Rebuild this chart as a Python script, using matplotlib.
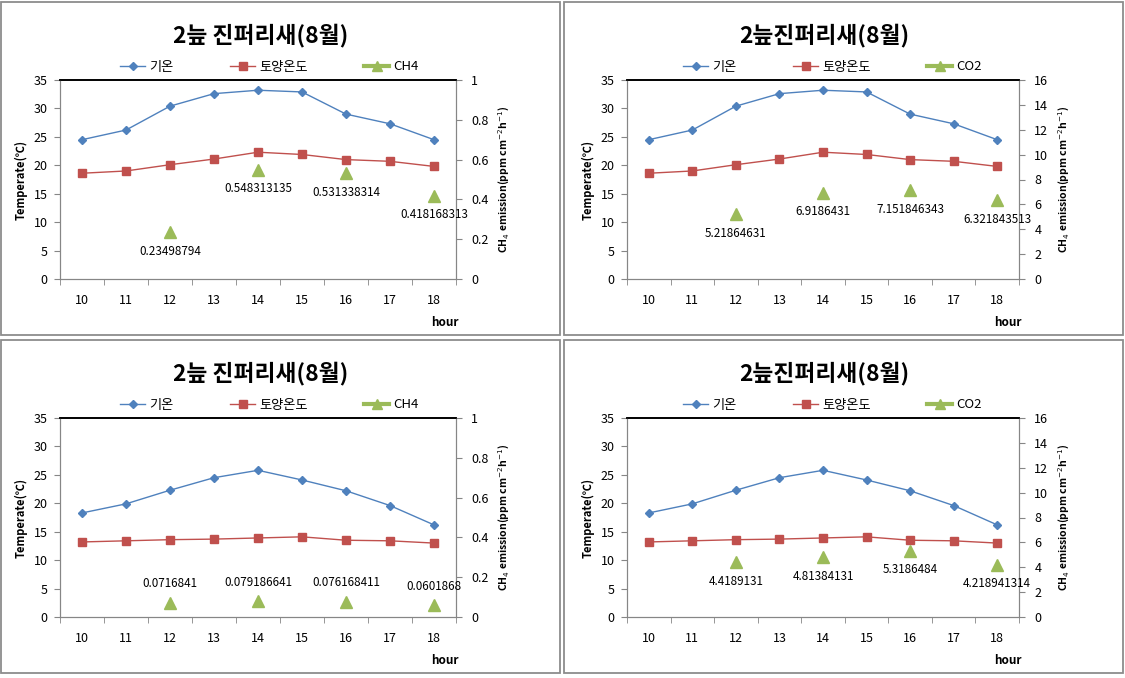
import matplotlib
matplotlib.use("Agg")
import matplotlib.pyplot as plt
import matplotlib.patches as patches
from matplotlib.lines import Line2D
from matplotlib.ticker import FixedLocator, NullFormatter

plt.rcParams['font.family'] = ['Noto Sans CJK KR', 'DejaVu Sans']
plt.rcParams['axes.unicode_minus'] = False

W, H = 1125, 678

# 데이터
hours = [10, 11, 12, 13, 14, 15, 16, 17, 18]
gas_hours = [12, 14, 16, 18]

air_top = [24.5, 26.2, 30.4, 32.6, 33.2, 32.9, 29.0, 27.3, 24.5]
soil_top = [18.6, 19.0, 20.1, 21.1, 22.3, 21.9, 21.0, 20.7, 19.8]
air_bot = [18.3, 19.9, 22.3, 24.5, 25.8, 24.1, 22.2, 19.6, 16.2]
soil_bot = [13.2, 13.4, 13.6, 13.7, 13.9, 14.1, 13.5, 13.4, 13.0]

ch4_top = [0.23498794, 0.548313135, 0.531338314, 0.418168313]
co2_top = [5.21864631, 6.9186431, 7.151846343, 6.321843513]
ch4_bot = [0.0716841, 0.079186641, 0.076168411, 0.0601868]
co2_bot = [4.4189131, 4.81384131, 5.3186484, 4.218941314]

c_air = '#4F81BD'
c_soil = '#C0504D'
c_gas = '#9BBB59'
c_axis = '#868686'


def px(x, y):
    return x / W, 1 - y / H


def draw_panel(ox, oy, title, air, soil, gas, gas_name, gas_max, gas_step, above):
    # 패널 테두리
    x0, y0 = px(ox - 1, oy + 333)
    fig.add_artist(patches.Rectangle((x0, y0), 559 / W, 333 / H, transform=fig.transFigure,
                                     fill=False, edgecolor='#8C8C8C', linewidth=1.3))

    shift = 4 if ox > 100 else 0
    left, top = px(ox + 58 + shift, oy + 78)
    w = (396 - shift) / W
    h = 199 / H
    ax = fig.add_axes([left, top - h, w, h])
    ax2 = ax.twinx()

    ax.plot(hours, air, color=c_air, marker='D', markersize=4.5, linewidth=1, label='기온')
    ax.plot(hours, soil, color=c_soil, marker='s', markersize=6, linewidth=1, label='토양온도')
    ax2.plot(gas_hours, gas, linestyle='none', color=c_gas, marker='^', markersize=9)

    ax.set_xlim(9.5, 18.5)
    ax.set_ylim(0, 35)
    ax.set_yticks(range(0, 36, 5))
    ax2.set_ylim(0, gas_max)
    ticks = [i * gas_step for i in range(int(round(gas_max / gas_step)) + 1)]
    ax2.set_yticks(ticks)
    ax2.set_yticklabels(['%g' % t for t in ticks])

    ax.xaxis.set_major_locator(FixedLocator(hours))
    ax.xaxis.set_minor_locator(FixedLocator([x + 0.5 for x in [9] + hours]))
    ax.xaxis.set_minor_formatter(NullFormatter())
    ax.tick_params(axis='x', which='major', length=0, pad=11, labelsize=9)
    ax.tick_params(axis='x', which='minor', length=4, color=c_axis, direction='out')
    ax.tick_params(axis='y', length=4, color=c_axis, labelsize=9, pad=5)
    ax2.tick_params(axis='y', length=4, color=c_axis, labelsize=9, pad=7)

    for a in (ax, ax2):
        for s in ('left', 'right', 'bottom'):
            a.spines[s].set_color(c_axis)
        a.spines['top'].set_color('black')
        a.spines['top'].set_linewidth(1.2)

    # 값 라벨
    for x, v in zip(gas_hours, gas):
        ax2.annotate(repr(v), (x, v), textcoords='offset pixels', xytext=(0, 19 if above else -19),
                     ha='center', va='center', fontsize=8.4)

    ax.set_ylabel('Temperate(℃)', fontsize=8, fontweight='bold', labelpad=4)
    ax2.set_ylabel(r'CH$_4$ emission(ppm cm$^{-2}$h$^{-1}$)', fontsize=7.5, fontweight='bold', labelpad=6)

    tx, ty = px(ox + 259, oy + 33)
    fig.text(tx, ty, title, ha='center', va='center', fontsize=16.4, fontweight='bold')
    hx, hy = px(ox + 443, oy + 321)
    fig.text(hx, hy, 'hour', ha='center', va='center', fontsize=8.5, fontweight='bold')

    handles = [
        Line2D([], [], color=c_air, marker='D', markersize=4.5, linewidth=1),
        Line2D([], [], color=c_soil, marker='s', markersize=6, linewidth=1),
        Line2D([], [], color=c_gas, marker='^', markersize=7, linewidth=3),
    ]
    lx, ly = px(ox + 118, oy + 65)
    fig.legend(handles, ['기온', '토양온도', gas_name], loc='center left', bbox_to_anchor=(lx, ly),
               ncol=3, frameon=False, fontsize=9.5, handlelength=1.9, handletextpad=0.3,
               columnspacing=4.3, borderaxespad=0, borderpad=0)


fig = plt.figure(figsize=(W / 100, H / 100), dpi=100)
fig.patch.set_facecolor('white')

draw_panel(2, 2, '2늪 진퍼리새(8월)', air_top, soil_top, ch4_top, 'CH4', 1, 0.2, False)
draw_panel(565, 2, '2늪진퍼리새(8월)', air_top, soil_top, co2_top, 'CO2', 16, 2, False)
draw_panel(2, 340, '2늪 진퍼리새(8월)', air_bot, soil_bot, ch4_bot, 'CH4', 1, 0.2, True)
draw_panel(565, 340, '2늪진퍼리새(8월)', air_bot, soil_bot, co2_bot, 'CO2', 16, 2, False)

fig.savefig('out.png', dpi=100)
